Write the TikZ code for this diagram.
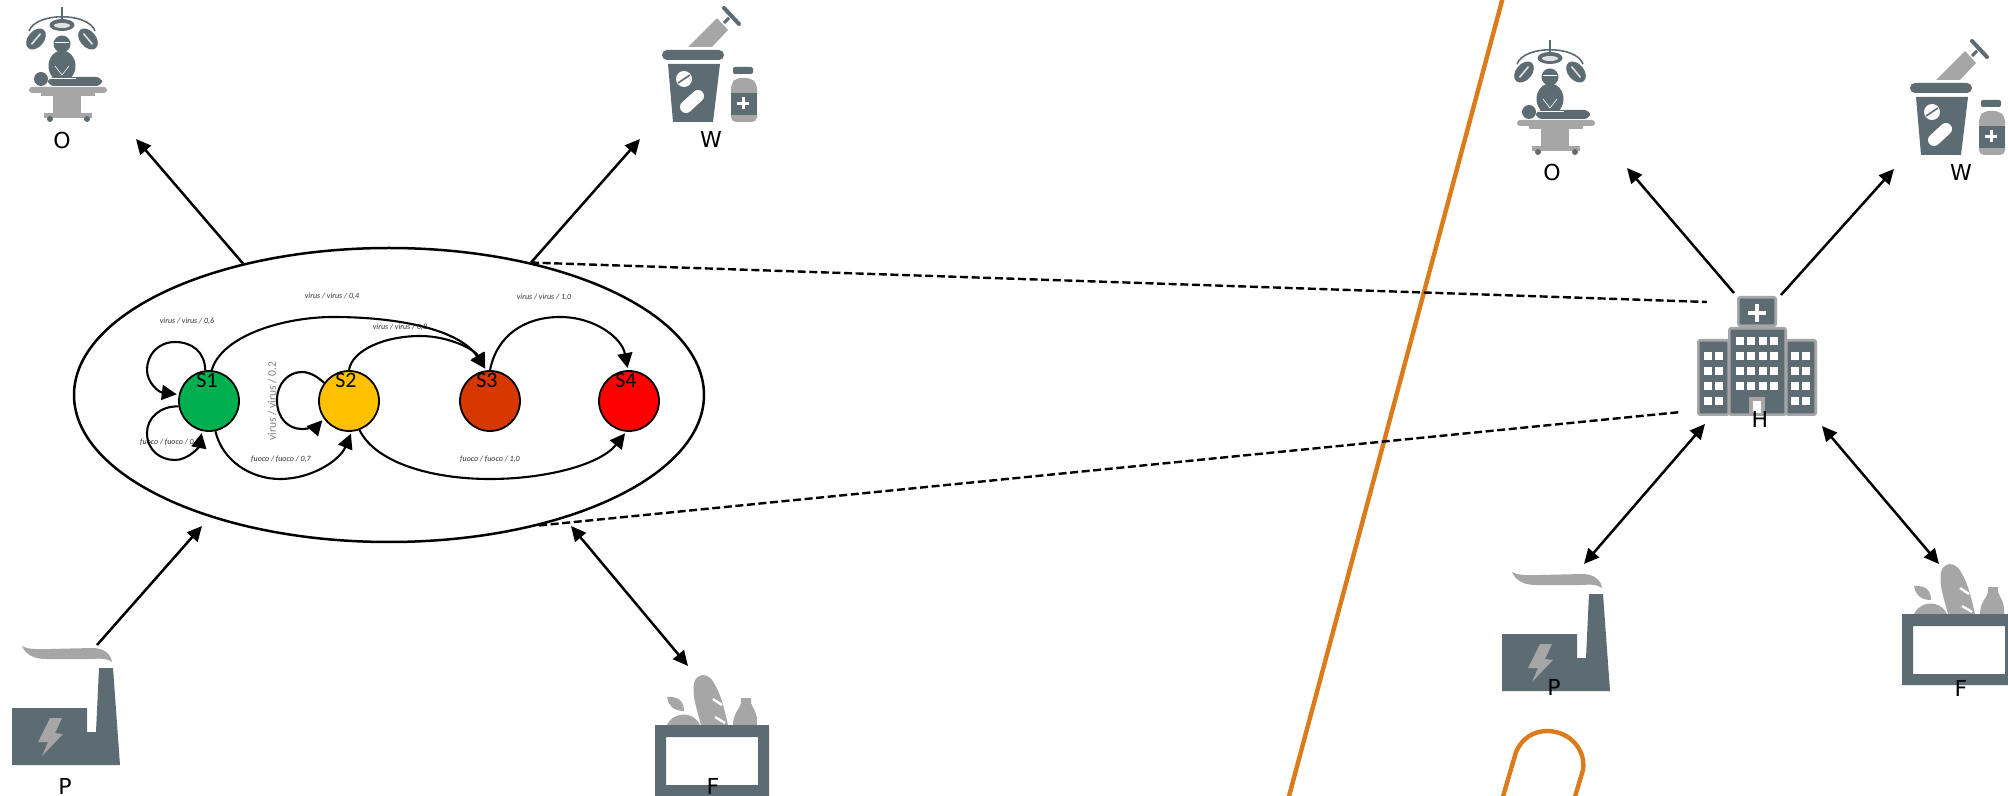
\documentclass[tikz,border=0pt]{standalone}
\usepackage{fontspec}
\setmainfont{DejaVu Sans}
\newfontfamily\carl{Carlito}
\usetikzlibrary{arrows.meta,shapes.geometric}
\definecolor{icondark}{HTML}{5D6B73}
\definecolor{icongray}{HTML}{A6A6A6}
\definecolor{orangeline}{HTML}{DC7B1B}
\definecolor{labgray}{HTML}{303030}
\tikzset{
  link/.style={line width=1.25pt,-{Triangle[length=7.5pt,width=7pt]}},
  twoway/.style={line width=1.25pt,{Triangle[length=7.5pt,width=7pt]}-{Triangle[length=7.5pt,width=7pt]}},
  dashlink/.style={line width=1.2pt,dash pattern=on 4pt off 1.8pt},
  trans/.style={line width=1.05pt,-{Triangle[length=7.5pt,width=7.5pt]},shorten >=1pt},
  state/.style={circle,draw=black,line width=.9pt,minimum size=30pt,inner sep=0pt},
  slabel/.style={font=\carl\fontsize{11}{13}\selectfont,text=black,inner sep=0pt},
  tlabel/.style={font=\carl\itshape\fontsize{4}{5}\selectfont,text=labgray,inner sep=0pt},
  vlabel/.style={font=\carl\fontsize{5.8}{7}\selectfont,text=gray,inner sep=0pt,rotate=90},
  iconlabel/.style={font=\fontsize{11}{13}\selectfont,text=black,inner sep=0pt},
  orange/.style={draw=orangeline,line width=2.2pt,line join=round},
  opicon/.pic={
    \draw[icondark,line width=.8pt] (62,7) -- (62,22);
    \draw[icondark,line width=.8pt] (29,31) .. controls (36,12) and (88,12) .. (95,31);
    \fill[icondark] (62,25) ellipse [x radius=12.5,y radius=6];
    \fill[white!80!icondark] (62,25.5) ellipse [x radius=8,y radius=2.5];
    \fill[icondark,rotate around={50:(36,39)}] (36,39) ellipse [x radius=12,y radius=8];
    \fill[icondark,rotate around={-50:(88,39)}] (88,39) ellipse [x radius=12,y radius=8];
    \draw[white!80!icondark,line width=.8pt,rotate around={50:(36,39)}] (29,39) -- (43,39);
    \draw[white!80!icondark,line width=.8pt,rotate around={-50:(88,39)}] (81,39) -- (95,39);
    \fill[icondark] (62,44) circle [radius=8.5];
    \fill[icondark] (62,66) ellipse [x radius=13.5,y radius=15.5];
    \draw[white,line width=.3pt] (55,66) -- (62,75) -- (69,66);
    \draw[white,line width=.3pt] (55,42) -- (69,42);
    \fill[icondark] (41,79) circle [radius=7];
    \fill[icondark,rounded corners=3pt] (48,77) rectangle (102,86);
    \draw[white,line width=.3pt] (50,78) -- (76,78);
    \fill[icongray,rounded corners=1.5pt] (29,87) rectangle (107,93);
    \fill[icongray] (41,93) rectangle (95,96);
    \fill[icongray] (53,93) rectangle (81,113);
    \fill[icongray] (44,113) rectangle (92,118);
    \fill[icondark] (50,119) circle [radius=3];
    \fill[icondark] (87,119) circle [radius=3];
  },
  wpicon/.pic={
    \fill[icongray] (688,47) -- (717,18) -- (728,30) -- (712,47) -- cycle;
    \draw[icondark,line width=2pt,line cap=round] (724,8) -- (739,24);
    \draw[icondark,line width=1.5pt] (724,23) -- (729,18);
    \fill[icondark,rounded corners=2.5pt] (662,50) rectangle (724,60);
    \fill[icondark] (668,64) -- (720,64) -- (713,122) -- (673,122) -- cycle;
    \fill[white] (684,79) circle [radius=8];
    \draw[icondark,line width=.8pt] (678,83) -- (690,75);
    \draw[white,line width=6pt,line cap=round] (686,107) -- (698,96);
    \fill[icondark,rounded corners=1pt] (733,67) rectangle (753,74);
    \fill[icongray,rounded corners=2.5pt] (731,122) -- (731,84) -- (736,78) -- (751,78) -- (757,84) -- (757,122) -- cycle;
    \fill[icondark] (731,93) rectangle (757,115);
    \fill[white] (737,102) rectangle (749,105);
    \fill[white] (741.5,97) rectangle (744.5,109);
  },
  plicon/.pic={
    \fill[icongray] (22,646) .. controls (30,650) and (36,649) .. (50,649) -- (92,648) .. controls (104,648) and (111,654) .. (112,662)
      .. controls (104,657) and (98,659) .. (90,659) -- (46,659) .. controls (34,659) and (26,655) .. cycle;
    \fill[icondark] (12,708) -- (87,708) -- (87,732) -- (96,732) -- (99,668) -- (113,668) -- (120,765) -- (12,765) -- cycle;
    \fill[icongray] (50,718) -- (62,718) -- (55,733) -- (63,734) -- (42,756) -- (48,742) -- (38,742) -- cycle;
  },
  foicon/.pic={
    \fill[icongray] (701,724) .. controls (696,705) and (692,695) .. (694,682) .. controls (697,672) and (708,671) .. (714,682)
      .. controls (722,695) and (725,712) .. (728,724) -- cycle;
    \draw[white,line width=1.2pt] (713,698) -- (722,704);
    \draw[white,line width=1.2pt] (715,716) -- (725,722);
    \fill[icongray] (667,696) .. controls (680,695) and (684,702) .. (684,710) .. controls (672,710) and (668,703) .. cycle;
    \fill[icongray] (667,724) .. controls (672,712) and (692,708) .. (700,724) -- cycle;
    \fill[icongray] (733,724) .. controls (733,712) and (740,708) .. (741,702) -- (741,697) -- (751,697) -- (751,702) .. controls (753,708) and (758,712) .. (757,724) -- cycle;
    \fill[icondark,even odd rule] (655,724) rectangle (769,795) (666,736) rectangle (758,784);
  },
  hospicon/.pic={
    \foreach \xa/\ya/\xb/\yb in {1737/296/1777/327,1728/327/1787/416,1697/339/1730/416,1785/339/1817/416}{
      \fill[icondark,draw=icongray,line width=1.3pt,rounded corners=1pt] (\xa+1.3,\ya+1.3) rectangle (\xb-1.3,\yb-1.3);
    }
    \fill[white] (1748,311) rectangle (1766,315);
    \fill[white] (1755,304) rectangle (1759,322);
    \foreach \cx in {1740,1751.3,1762.7,1774}{\foreach \cy in {341,356.3,371,386.3}{
      \fill[white] (\cx-4,\cy-4) rectangle (\cx+4,\cy+4);}}
    \foreach \cx in {1708,1719.3,1794.7,1806}{\foreach \cy in {356,371,386,401}{
      \fill[white] (\cx-4,\cy-4) rectangle (\cx+4,\cy+4);}}
    \fill[icongray] (1749,397) rectangle (1765,415);
    \fill[white] (1753,401) rectangle (1761,413);
  }
}
\begin{document}
\begin{tikzpicture}[x=0.5pt,y=-0.5pt]
\useasboundingbox (0,0) rectangle (2008,796);
\clip (0,0) rectangle (2008,796);
\fill[white] (0,0) rectangle (2008,796);

% orange
\coordinate (orA) at (1503,-3);
\coordinate (orB) at (1288,800);
\draw[orange] (orA) -- (orB);
\coordinate (hkA) at (1502,800);
\coordinate (hkB) at (1574,800);
\draw[orange] (hkA) -- (1516,752) .. controls (1522,738) and (1534,731) .. (1547,731)
  .. controls (1570,731) and (1586,750) .. (1583,770) -- (hkB);

% icons
\pic at (0,0) {opicon};
\pic at (1488,33) {opicon};
\pic at (0,0) {wpicon};
\pic at (1248,33) {wpicon};
\pic at (0,0) {plicon};
\pic at (1490,-74) {plicon};
\pic at (0,1) {foicon};
\pic at (1247,-110) {foicon};
\pic at (0,0) {hospicon};

% icon labels
\node[iconlabel] (lO1) at (62,140) {O};
\node[iconlabel] (lW1) at (711,139) {W};
\node[iconlabel] (lP1) at (65,786) {P};
\node[iconlabel] (lF1) at (713,786) {F};
\node[iconlabel] (lO2) at (1552,172) {O};
\node[iconlabel] (lW2) at (1961,172) {W};
\node[iconlabel] (lP2) at (1554,687) {P};
\node[iconlabel] (lF2) at (1961,688) {F};
\node[iconlabel] (lH) at (1760,419) {H};

% big ellipse
\node[ellipse,draw=black,line width=1.25pt,minimum width=315pt,minimum height=147pt,inner sep=0pt] (ell) at (389,395) {};

% transition labels
\node[tlabel] (t1) at (187,321) {virus / virus / 0,6};
\node[tlabel] (t2) at (170,442) {fuoco / fuoco / 0,3};
\node[tlabel] (t3) at (332,296) {virus / virus / 0,4};
\node[tlabel] (t4) at (400,327) {virus / virus / 0,8};
\node[tlabel] (t5) at (281,459) {fuoco / fuoco / 0,7};
\node[tlabel] (t6) at (544,297) {virus / virus / 1,0};
\node[tlabel] (t7) at (490,459) {fuoco / fuoco / 1,0};
\node[vlabel] (t8) at (272,401) {virus / virus / 0.2};

% states
\node[state,fill={rgb,255:red,0;green,176;blue,80}] (S1) at (209,401) {};
\node[state,fill={rgb,255:red,255;green,192;blue,0}] (S2) at (349,401) {};
\node[state,fill={rgb,255:red,214;green,56;blue,0}] (S3) at (490,401) {};
\node[state,fill={rgb,255:red,255;green,0;blue,0}] (S4) at (629,401) {};
\node[slabel] (s1t) at (207,380) {S1};
\node[slabel] (s2t) at (346,380) {S2};
\node[slabel] (s3t) at (487,380) {S3};
\node[slabel] (s4t) at (626,380) {S4};

% transitions
\draw[trans] (S1.97) .. controls (205,352) and (192,342) .. (175,342) .. controls (158,342) and (147,355) .. (147,370) .. controls (147,382) and (158,392) .. (S1.168);
\draw[trans] (S1.190) .. controls (160,406) and (147,418) .. (147,433) .. controls (147,450) and (160,460) .. (175,460) .. controls (188,460) and (199,447) .. (S1.-103);
\draw[trans] (S1.85) .. controls (222,335) and (285,317) .. (333,317) .. controls (400,317) and (460,330) .. (S3.97);
\draw[trans] (S2.90) .. controls (352,350) and (385,336) .. (420,336) .. controls (450,336) and (475,350) .. (S3.97);
\draw[trans] (S2.144) .. controls (318,377) and (310,372) .. (302,372) .. controls (288,372) and (277,384) .. (277,400) .. controls (277,418) and (288,429) .. (302,429) .. controls (310,429) and (318,425) .. (S2.215);
\draw[trans] (S1.-78) .. controls (222,460) and (250,479) .. (280,479) .. controls (312,479) and (340,460) .. (S2.-85);
\draw[trans] (S2.-70) .. controls (375,462) and (430,479) .. (490,479) .. controls (545,479) and (600,465) .. (S4.-95);
\draw[trans] (S3.90) .. controls (497,335) and (525,317) .. (560,317) .. controls (595,317) and (622,338) .. (S4.92);

% arrows, left part
\coordinate (toO1) at (136,139);
\coordinate (toW1) at (640,139);
\coordinate (frP1) at (97,645);
\coordinate (toE1) at (202,526);
\coordinate (toE2) at (571,526);
\coordinate (toF1) at (688,666);
\draw[link] (ell.138.5) -- (toO1);
\draw[link] (ell.43.1) -- (toW1);
\draw[link] (frP1) -- (toE1);
\draw[twoway] (toE2) -- (toF1);

% dashed
\coordinate (dsA) at (1707,302);
\coordinate (dsB) at (1681,412);
\draw[dashlink] (ell.43.1) -- (dsA);
\draw[dashlink] (ell.-41.9) -- (dsB);

% arrows, right part
\coordinate (frH1) at (1734,293);
\coordinate (toO2) at (1627,168);
\coordinate (frH2) at (1781,295);
\coordinate (toW2) at (1894,169);
\coordinate (hP1) at (1705,424);
\coordinate (hP2) at (1584,564);
\coordinate (hF1) at (1822,426);
\coordinate (hF2) at (1939,564);
\draw[link] (frH1) -- (toO2);
\draw[link] (frH2) -- (toW2);
\draw[twoway] (hP1) -- (hP2);
\draw[twoway] (hF1) -- (hF2);
\end{tikzpicture}
\end{document}
